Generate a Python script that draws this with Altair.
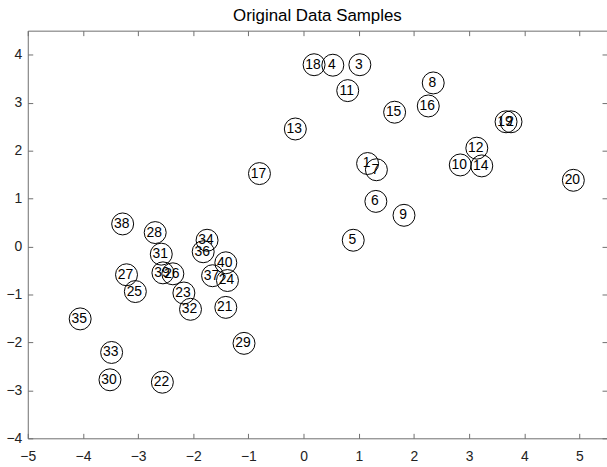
import altair as alt
import pandas as pd

ids = list(range(1, 41))
xs = [1.16, 3.76, 1.02, 0.53, 0.90, 1.31, 1.32, 2.35, 1.82, 2.84,
      0.80, 3.14, -0.15, 3.23, 1.65, 2.26, -0.80, 0.19, 3.67, 4.89,
      -1.41, -2.56, -2.17, -1.38, -3.05, -2.37, -3.21, -2.69, -1.08, -3.51,
      -2.58, -2.05, -3.48, -1.75, -4.05, -1.82, -1.65, -3.28, -2.55, -1.41]
ys = [1.73, 2.60, 3.79, 3.78, 0.13, 0.94, 1.60, 3.41, 0.65, 1.70,
      3.25, 2.05, 2.45, 1.68, 2.80, 2.93, 1.52, 3.79, 2.60, 1.38,
      -1.27, -2.83, -0.97, -0.71, -0.94, -0.57, -0.59, 0.29, -2.02, -2.78,
      -0.16, -1.31, -2.21, 0.13, -1.51, -0.11, -0.61, 0.47, -0.55, -0.34]
x_ticks = list(range(-5, 6))
y_ticks = list(range(-4, 5))
x_domain = [-5, 5.5]
y_domain = [-4, 4.5]
title_text = "Original Data Samples"

df = pd.DataFrame({"id": [str(i) for i in ids], "x": xs, "y": ys})

FONT = "Liberation Sans"
LINE = "#6e6e6e"

xscale = alt.Scale(domain=x_domain, nice=False, zero=False)
yscale = alt.Scale(domain=y_domain, nice=False, zero=False)

common = dict(tickSize=5, offset=-5, domain=False, grid=False, tickColor=LINE,
              tickWidth=1, labelColor="#222222", labelFont=FONT, labelFontSize=14,
              labelFlush=False, labelOverlap=False, title=None)

bottom = alt.Axis(orient="bottom", values=x_ticks, labelPadding=11, **common)
left = alt.Axis(orient="left", values=y_ticks, labelPadding=6, **common)
top = alt.Axis(orient="top", values=x_ticks, labels=False, **common)
right = alt.Axis(orient="right", values=y_ticks, labels=False, **common)

points = alt.Chart(df).mark_point(
    shape="circle", size=490, filled=False, color="black", strokeWidth=1, opacity=1
).encode(
    x=alt.X("x:Q", scale=xscale, axis=bottom),
    y=alt.Y("y:Q", scale=yscale, axis=left),
)

labels = alt.Chart(df).mark_text(font=FONT, fontSize=14, color="black", dx=-1).encode(
    x=alt.X("x:Q", scale=xscale, axis=top),
    y=alt.Y("y:Q", scale=yscale, axis=right),
    text="id:N",
)

chart = (
    alt.layer(points, labels)
    .resolve_axis(x="independent", y="independent")
    .properties(
        width=584,
        height=411,
        autosize="none",
        padding={"left": 28, "top": 29, "right": 0, "bottom": 27},
        title=alt.TitleParams(title_text, font=FONT, fontSize=17, fontWeight="normal",
                              color="black", anchor="middle", offset=5),
    )
    .configure_view(stroke=LINE, strokeWidth=1)
)

chart.save("out.html", embed_options={"renderer": "svg", "actions": False})
